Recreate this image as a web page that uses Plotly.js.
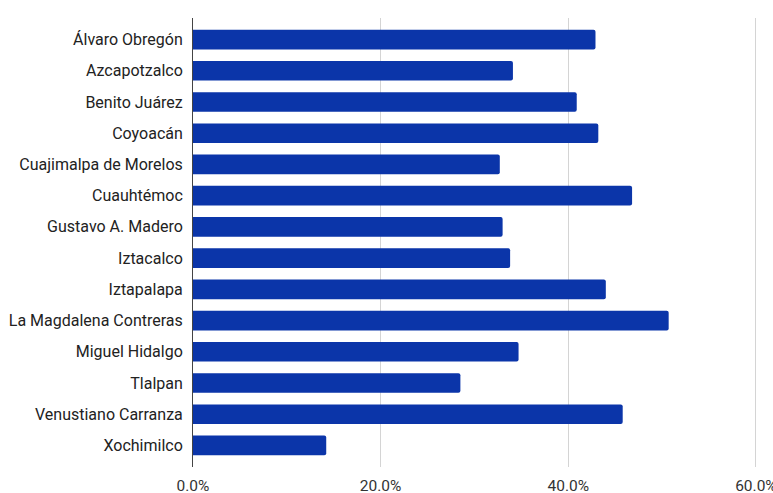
<!DOCTYPE html>
<html>
<head>
<meta charset="utf-8">
<script src="https://cdn.plot.ly/plotly-3.0.1.min.js"></script>
<style>html,body{margin:0;padding:0;background:#fff;}#chart{width:773px;height:493px;}</style>
</head>
<body>
<div id="chart"></div>
<script>
const categories = ["Álvaro Obregón","Azcapotzalco","Benito Juárez","Coyoacán","Cuajimalpa de Morelos","Cuauhtémoc","Gustavo A. Madero","Iztacalco","Iztapalapa","La Magdalena Contreras","Miguel Hidalgo","Tlalpan","Venustiano Carranza","Xochimilco"];
const values = [42.9,34.1,40.9,43.2,32.7,46.8,33.0,33.8,44.0,50.7,34.7,28.5,45.8,14.2];
const tickVals = [0,20,40,60];
const tickText = ["0.0%","20.0%","40.0%","60.0%"];

const n = categories.length;
Plotly.newPlot("chart", [{
  type: "bar",
  orientation: "h",
  y: categories,
  x: values,
  marker: {color: "#0b35a9", cornerradius: 2},
  hoverinfo: "x+y"
}], {
  width: 773, height: 493,
  margin: {l: 193, r: 3, t: 18, b: 26},
  paper_bgcolor: "#fff", plot_bgcolor: "#fff",
  bargap: 0.37,
  showlegend: false,
  font: {family: "Roboto, sans-serif", size: 16, color: "#222"},
  xaxis: {
    range: [0, 61.5],
    tickvals: tickVals, ticktext: tickText,
    showgrid: true, gridcolor: "#d4d4d4", gridwidth: 1,
    zeroline: false, showline: false,
    ticks: "", ticklabelstandoff: 7,
    ticklabeloverflow: "allow",
    tickfont: {size: 15.5, color: "#333"},
    fixedrange: true
  },
  yaxis: {
    type: "category",
    categoryorder: "array", categoryarray: categories,
    autorange: false,
    range: [n - 0.5 + 0.19, -0.5 - 0.19],
    showgrid: false, zeroline: false,
    showline: true, linecolor: "#444", linewidth: 1,
    ticks: "", ticklabelstandoff: 6,
    tickfont: {size: 16, color: "#222"},
    fixedrange: true
  }
}, {displayModeBar: false, staticPlot: true});
</script>
</body>
</html>
